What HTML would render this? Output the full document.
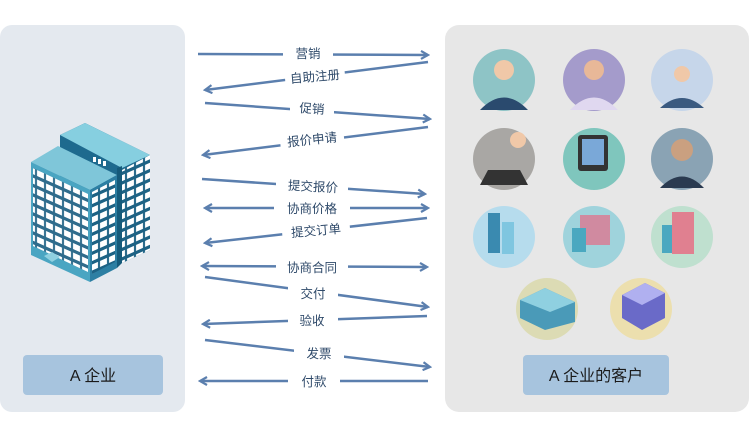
<!DOCTYPE html>
<html><head><meta charset="utf-8"><style>
body{margin:0;width:749px;height:438px;background:#fff;overflow:hidden;font-family:"Liberation Sans","Noto Sans CJK SC",sans-serif}
</style></head><body>
<svg width="749" height="438" viewBox="0 0 749 438" xmlns="http://www.w3.org/2000/svg">
<defs>
<marker id="a" markerWidth="10" markerHeight="10" refX="8" refY="5" orient="auto-start-reverse" markerUnits="userSpaceOnUse">
<path d="M1,1 L8,5 L1,9" fill="none" stroke="#5b7fae" stroke-width="2.2"/>
</marker>
<pattern id="win" width="9" height="9.5" patternUnits="userSpaceOnUse" patternTransform="skewY(24)">
<rect width="9" height="9.5" fill="#2f6c8c"/><rect x="1" y="1.5" width="7" height="6" fill="#fff"/>
</pattern>
<pattern id="win2" width="9" height="9.5" patternUnits="userSpaceOnUse" patternTransform="skewY(-24)">
<rect width="9" height="9.5" fill="#1d6284"/><rect x="1" y="1.5" width="7" height="6" fill="#fff"/>
</pattern>
</defs>
<rect x="0" y="25" width="185" height="387" rx="12" fill="#e4e9ef"/>
<rect x="445" y="25" width="304" height="387" rx="14" fill="#e7e7e7"/>
<rect x="23" y="355" width="140" height="40" rx="4" fill="#a7c4de"/>
<rect x="523" y="355" width="146" height="40" rx="4" fill="#a7c4de"/>
<text x="93" y="381" font-size="16" text-anchor="middle" fill="#1a1a1a">A 企业</text>
<text x="596" y="381" font-size="16" text-anchor="middle" fill="#1a1a1a">A 企业的客户</text>

<!-- building -->
<polygon points="60,135 85,123 150,155 150,250 122,263 60,233" fill="#1e6a8e"/>
<polygon points="122,170 150,155 150,250 122,263" fill="url(#win2)"/>
<polygon points="60,135 85,123 150,155 122,168" fill="#86cfe0"/>
<polygon points="31,162 58,146 117,175 90,190" fill="#7fc6d9"/>
<polygon points="31,162 90,190 90,282 31,255" fill="#4aa5c2"/>
<polygon points="33,168 88,194 88,272 33,246" fill="url(#win)"/>
<polygon points="90,190 117,175 117,268 90,282" fill="#2d7fa3"/>
<polygon points="92,192 115,180 115,262 92,274" fill="url(#win2)"/>
<polygon points="117,168 122,166 122,263 117,268" fill="#155a7a"/>
<rect x="93" y="157" width="3" height="5" fill="#fff"/><rect x="98" y="159" width="3" height="5" fill="#fff"/><rect x="103" y="161" width="3" height="5" fill="#fff"/>
<polygon points="44,256 52,252 60,257 52,262" fill="#8fd0e0"/>

<!-- customer circles -->
<g>
<circle cx="504" cy="80" r="31" fill="#8ec4c6"/>
<circle cx="594" cy="80" r="31" fill="#a49bcb"/>
<circle cx="682" cy="80" r="31" fill="#c6d6ea"/>
<circle cx="504" cy="159" r="31" fill="#a9a7a4"/>
<circle cx="594" cy="159" r="31" fill="#7fc6bd"/>
<circle cx="682" cy="159" r="31" fill="#8aa3b4"/>
<circle cx="504" cy="237" r="31" fill="#b6dced"/>
<circle cx="594" cy="237" r="31" fill="#9fd3dc"/>
<circle cx="682" cy="237" r="31" fill="#bfe0cf"/>
<circle cx="547" cy="309" r="31" fill="#dcdbb4"/>
<circle cx="641" cy="309" r="31" fill="#ecdfae"/>
<path d="M480,110 Q504,85 528,110 Z" fill="#2a4a6e"/><circle cx="504" cy="70" r="10" fill="#f0c8a8"/>
<path d="M570,110 Q594,85 618,110 Z" fill="#e0d8f0"/><circle cx="594" cy="70" r="10" fill="#e8b898"/>
<path d="M660,108 Q682,88 704,108 Z" fill="#3a5a80"/><circle cx="682" cy="74" r="8" fill="#f0c8a8"/>
<rect x="578" y="135" width="30" height="36" rx="3" fill="#333"/><rect x="582" y="139" width="22" height="26" fill="#7aa8d8"/>
<path d="M660,188 Q682,165 704,188 Z" fill="#2a3a50"/><circle cx="682" cy="150" r="11" fill="#caa080"/>
<path d="M480,185 L528,185 L520,170 L488,170Z" fill="#333"/><circle cx="518" cy="140" r="8" fill="#f0c8a8"/>
<rect x="488" y="213" width="12" height="40" fill="#3a8ab0"/><rect x="502" y="222" width="12" height="32" fill="#7fc6e0"/>
<rect x="580" y="215" width="30" height="30" fill="#d08aa0"/><rect x="572" y="228" width="14" height="24" fill="#4aa8c0"/>
<rect x="672" y="212" width="22" height="42" fill="#e08090"/><rect x="662" y="225" width="10" height="28" fill="#4aa8c0"/>
<polygon points="520,300 545,288 575,302 575,322 545,330 520,318" fill="#4a9ab8"/><polygon points="520,300 545,288 575,302 550,312" fill="#8fd0e0"/>
<polygon points="622,295 645,283 665,293 665,318 642,330 622,318" fill="#6a6ac8"/><polygon points="622,295 645,283 665,293 642,305" fill="#b0b0f0"/>
</g>

<!-- arrows -->
<g stroke="#5b7fae" stroke-width="2.5" fill="none">
<line x1="198" y1="54" x2="428" y2="55" marker-end="url(#a)"/>
<line x1="428" y1="62" x2="205" y2="90" marker-end="url(#a)"/>
<line x1="205" y1="103" x2="430" y2="119" marker-end="url(#a)"/>
<line x1="428" y1="127" x2="203" y2="155" marker-end="url(#a)"/>
<line x1="202" y1="179" x2="425" y2="194" marker-end="url(#a)"/>
<line x1="205" y1="208" x2="428" y2="208" marker-end="url(#a)" marker-start="url(#a)"/>
<line x1="427" y1="218" x2="205" y2="243" marker-end="url(#a)"/>
<line x1="202" y1="266" x2="427" y2="267" marker-end="url(#a)" marker-start="url(#a)"/>
<line x1="205" y1="277" x2="428" y2="307" marker-end="url(#a)"/>
<line x1="427" y1="316" x2="203" y2="324" marker-end="url(#a)"/>
<line x1="205" y1="340" x2="430" y2="367" marker-end="url(#a)"/>
<line x1="428" y1="381" x2="200" y2="381" marker-end="url(#a)"/>
</g>
<g font-size="12.5" fill="#2f4a6a" text-anchor="middle">
<rect x="283" y="44" width="50" height="18" fill="#fff"/><text x="308" y="58">营销</text>
<rect x="285" y="68" width="60" height="18" fill="#fff" transform="rotate(-5 315 77)"/><text x="315" y="81" transform="rotate(-5 315 77)">自助注册</text>
<rect x="290" y="99" width="44" height="18" fill="#fff"/><text x="312" y="113" transform="rotate(4 312 108)">促销</text>
<rect x="280" y="130" width="64" height="18" fill="#fff" transform="rotate(-6 312 139)"/><text x="312" y="144" transform="rotate(-6 312 139)">报价申请</text>
<rect x="276" y="177" width="72" height="18" fill="#fff"/><text x="313" y="191" transform="rotate(3 313 186)">提交报价</text>
<rect x="274" y="199" width="76" height="18" fill="#fff"/><text x="312" y="213">协商价格</text>
<rect x="282" y="221" width="68" height="18" fill="#fff" transform="rotate(-5 316 230)"/><text x="316" y="235" transform="rotate(-5 316 230)">提交订单</text>
<rect x="276" y="258" width="72" height="18" fill="#fff"/><text x="312" y="272">协商合同</text>
<rect x="288" y="284" width="50" height="18" fill="#fff"/><text x="313" y="298">交付</text>
<rect x="288" y="311" width="50" height="18" fill="#fff"/><text x="312" y="325">验收</text>
<rect x="294" y="344" width="50" height="18" fill="#fff"/><text x="319" y="358">发票</text>
<rect x="288" y="372" width="52" height="18" fill="#fff"/><text x="314" y="386">付款</text>
</g>
</svg>
</body></html>
